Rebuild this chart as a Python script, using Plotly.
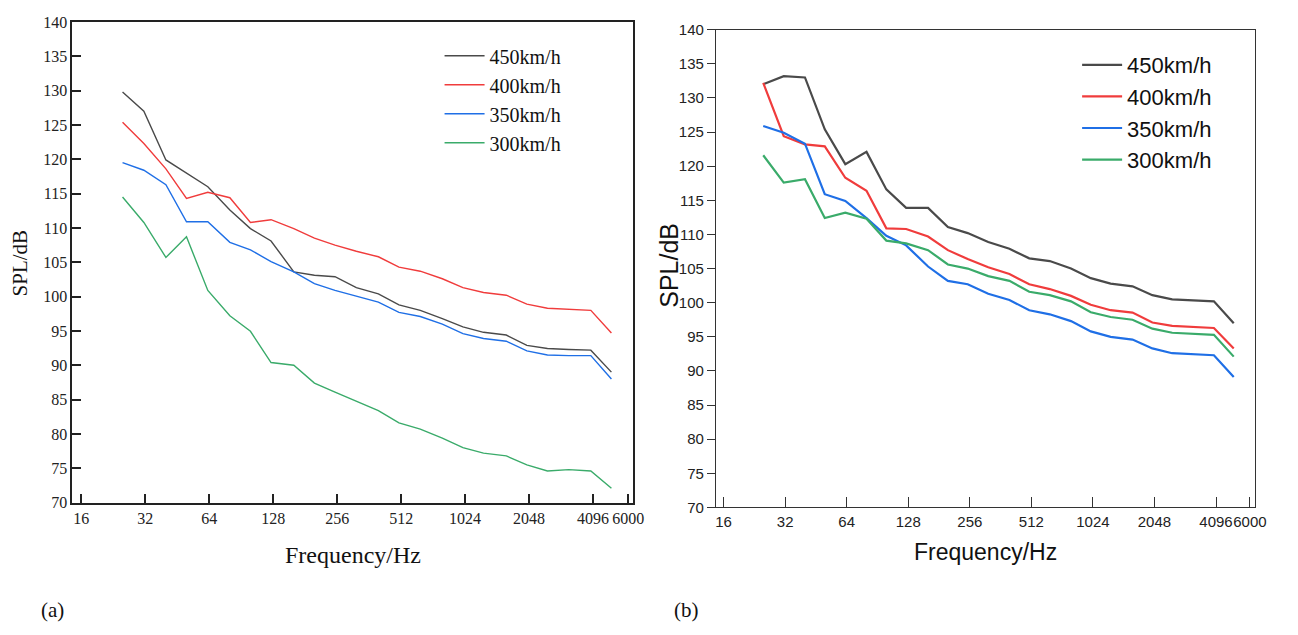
import plotly.graph_objects as go

freqs = [25, 31.5, 40, 50, 63, 80, 100, 125, 160, 200, 250, 315, 400, 500,
         630, 800, 1000, 1250, 1600, 2000, 2500, 3150, 4000, 5000]

# panel (a)
a_450 = [129.8, 127.0, 119.9, 118.0, 116.0, 112.6, 109.9, 108.1, 103.6, 103.1, 102.9, 101.3,
         100.4, 98.8, 98.0, 96.8, 95.6, 94.8, 94.4, 92.9, 92.45, 92.3, 92.2, 89.0]
a_400 = [125.4, 122.3, 118.6, 114.3, 115.2, 114.4, 110.8, 111.2, 109.9, 108.5, 107.5, 106.6,
         105.8, 104.3, 103.7, 102.6, 101.3, 100.6, 100.2, 98.9, 98.3, 98.1, 98.0, 94.7]
a_350 = [119.5, 118.4, 116.3, 110.9, 110.9, 107.9, 106.8, 105.1, 103.6, 101.9, 100.9, 100.1,
         99.2, 97.7, 97.1, 96.0, 94.6, 93.9, 93.5, 92.1, 91.5, 91.4, 91.4, 88.0]
a_300 = [114.5, 110.8, 105.7, 108.7, 100.9, 97.2, 94.95, 90.4, 90.0, 87.4, 86.1, 84.8,
         83.4, 81.6, 80.7, 79.4, 78.0, 77.2, 76.8, 75.5, 74.6, 74.8, 74.6, 72.1]

# panel (b)
b_450 = [132.0, 133.2, 133.0, 125.4, 120.3, 122.1, 116.6, 113.9, 113.9, 111.1, 110.2, 108.9,
         107.9, 106.5, 106.1, 105.0, 103.6, 102.8, 102.4, 101.1, 100.5, 100.4, 100.2, 97.0]
b_400 = [132.2, 124.4, 123.2, 122.9, 118.3, 116.4, 110.9, 110.8, 109.7, 107.7, 106.4, 105.2,
         104.2, 102.7, 102.0, 101.0, 99.7, 98.9, 98.55, 97.1, 96.6, 96.5, 96.3, 93.3]
b_350 = [125.9, 124.9, 123.3, 115.9, 114.9, 112.4, 109.8, 108.4, 105.3, 103.2, 102.7, 101.3,
         100.4, 98.9, 98.3, 97.3, 95.8, 95.0, 94.6, 93.3, 92.6, 92.5, 92.3, 89.1]
b_300 = [121.6, 117.6, 118.1, 112.4, 113.2, 112.3, 109.1, 108.7, 107.7, 105.6, 105.0, 103.9,
         103.2, 101.6, 101.1, 100.2, 98.6, 97.9, 97.5, 96.2, 95.6, 95.5, 95.3, 92.1]

names = ["450km/h", "400km/h", "350km/h", "300km/h"]
colors = ["#4a4a4a", "#f03c3c", "#1f6fe6", "#3aab6a"]

xtick_vals = [16, 32, 64, 128, 256, 512, 1024, 2048, 4096, 6000]
xtick_text = ["16", "32", "64", "128", "256", "512", "1024", "2048", "4096", "6000"]
ytick_vals = list(range(70, 141, 5))

W, H = 1298, 635
fig = go.Figure()

for nm, col, ys in zip(names, colors, [a_450, a_400, a_350, a_300]):
    fig.add_trace(go.Scatter(x=freqs, y=ys, mode="lines", name=nm,
                             line=dict(color=col, width=1.4),
                             xaxis="x", yaxis="y", legend="legend"))
for nm, col, ys in zip(names, colors, [b_450, b_400, b_350, b_300]):
    fig.add_trace(go.Scatter(x=freqs, y=ys, mode="lines", name=nm,
                             line=dict(color=col, width=2.2),
                             xaxis="x2", yaxis="y2", legend="legend2"))

serif = "Liberation Serif, Times New Roman, serif"
sans = "Liberation Sans, Arial, sans-serif"

ax_common = dict(showgrid=False, zeroline=False, showline=True, mirror=True)


def label(text, x, y, family, size, angle=0):
    return dict(text=text, x=x / W, y=1 - y / H, xref="paper", yref="paper",
                xanchor="center", yanchor="middle", textangle=angle, showarrow=False,
                font=dict(family=family, size=size, color="#111"))


fig.update_layout(
    width=W, height=H,
    margin=dict(l=0, r=0, t=0, b=0),
    paper_bgcolor="white", plot_bgcolor="white",
    xaxis=dict(type="log", domain=[72 / W, 638 / W], range=[1.1614, 3.7987],
               tickvals=xtick_vals, ticktext=xtick_text, ticks="inside", ticklen=9,
               tickwidth=1.5, linecolor="#222", linewidth=1.8, tickcolor="#222",
               tickangle=0,
               tickfont=dict(family=serif, size=16, color="#222"), anchor="y",
               **ax_common),
    yaxis=dict(domain=[1 - 508 / H, 1 - 13.3 / H], range=[70, 140],
               tickvals=ytick_vals, ticks="inside", ticklen=9, tickwidth=1.5,
               linecolor="#222", linewidth=1.8, tickcolor="#222",
               tickfont=dict(family=serif, size=16, color="#222"), anchor="x",
               **ax_common),
    xaxis2=dict(type="log", domain=[722.3 / W, 1267 / W], range=[1.1673, 3.8045],
                tickvals=xtick_vals, ticktext=xtick_text, ticks="inside", ticklen=10,
                tickwidth=1.2, linecolor="#333", linewidth=1.4, tickcolor="#333",
                tickangle=0,
                tickfont=dict(family=sans, size=15, color="#222"), anchor="y2",
                **ax_common),
    yaxis2=dict(domain=[1 - 513 / H, 1 - 21.3 / H], range=[70, 140],
                tickvals=ytick_vals, ticks="outside", ticklen=8, tickwidth=1.2,
                linecolor="#333", linewidth=1.4, tickcolor="#333",
                tickfont=dict(family=sans, size=15, color="#222"), anchor="x2",
                **ax_common),
    legend=dict(x=443 / W, y=1 - 28 / H, xanchor="left", yanchor="top",
                bgcolor="rgba(0,0,0,0)", font=dict(family=serif, size=20, color="#111"),
                tracegroupgap=0, itemwidth=40),
    legend2=dict(x=1087 / W, y=1 - 36 / H, xanchor="left", yanchor="top",
                 bgcolor="rgba(0,0,0,0)", font=dict(family=sans, size=22, color="#111"),
                 tracegroupgap=0, itemwidth=40),
    annotations=[
        label("SPL/dB", 19, 261, serif, 21, -90),
        label("Frequency/Hz", 356, 562, serif, 24),
        label("SPL/dB", 674, 264, sans, 25, -90),
        label("Frequency/Hz", 994, 559, sans, 23),
        label("(a)", 52, 619, serif, 21),
        label("(b)", 692, 619, serif, 21),
    ],
    showlegend=True,
)

fig.write_html("out.html")
